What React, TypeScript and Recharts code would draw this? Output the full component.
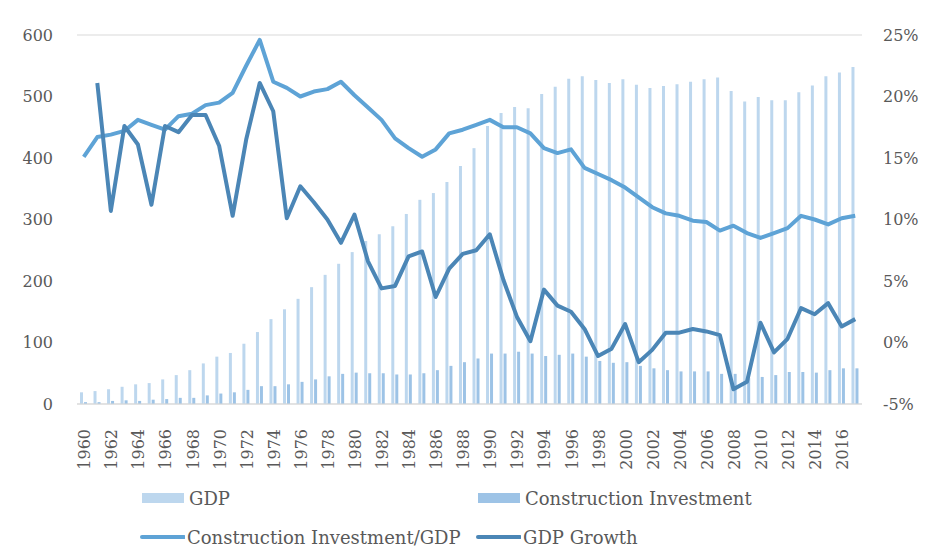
import React from 'react';
import { ComposedChart, Bar, Line, XAxis, YAxis, CartesianGrid, Legend } from 'recharts';

const years = [
  1960, 1961, 1962, 1963, 1964, 1965, 1966, 1967, 1968, 1969,
  1970, 1971, 1972, 1973, 1974, 1975, 1976, 1977, 1978, 1979,
  1980, 1981, 1982, 1983, 1984, 1985, 1986, 1987, 1988, 1989,
  1990, 1991, 1992, 1993, 1994, 1995, 1996, 1997, 1998, 1999,
  2000, 2001, 2002, 2003, 2004, 2005, 2006, 2007, 2008, 2009,
  2010, 2011, 2012, 2013, 2014, 2015, 2016, 2017,
];

const gdp = [
  19, 21, 24, 28, 32, 34, 40, 47, 55, 66,
  77, 83, 98, 117, 138, 154, 171, 190, 210, 228,
  247, 265, 276, 289, 309, 332, 343, 361, 387, 416,
  452, 473, 483, 481, 504, 516, 529, 533, 527, 522,
  528, 519, 514, 517, 520, 524, 528, 531, 509, 492,
  499, 494, 494, 507, 518, 533, 539, 548,
];

const constructionInvestment = [
  3, 3, 5, 6, 5, 7, 8, 10, 10, 14,
  17, 19, 23, 29, 29, 32, 36, 40, 45, 49,
  51, 50, 50, 48, 48, 50, 55, 62, 68, 74,
  82, 82, 85, 82, 78, 80, 82, 77, 70, 67,
  68, 62, 58, 55, 53, 53, 53, 49, 49, 42,
  44, 47, 52, 52, 51, 55, 58, 58,
];

const ciToGdp = [
  15.1, 16.7, 16.9, 17.2, 18.1, 17.7, 17.3, 18.4, 18.6, 19.3,
  19.5, 20.3, 22.5, 24.6, 21.2, 20.7, 20.0, 20.4, 20.6, 21.2,
  20.1, 19.1, 18.1, 16.6, 15.8, 15.1, 15.7, 17.0, 17.3, 17.7,
  18.1, 17.5, 17.5, 17.0, 15.8, 15.4, 15.7, 14.2, 13.7, 13.2,
  12.6, 11.8, 11.0, 10.5, 10.3, 9.9, 9.8, 9.1, 9.5, 8.9,
  8.5, 8.9, 9.3, 10.3, 10.0, 9.6, 10.1, 10.3,
];

const gdpGrowth: (number | null)[] = [
  null, 21.1, 10.7, 17.6, 16.1, 11.2, 17.6, 17.1, 18.5, 18.5,
  16.0, 10.3, 16.5, 21.1, 18.8, 10.1, 12.7, 11.4, 10.0, 8.1,
  10.4, 6.6, 4.4, 4.6, 7.0, 7.4, 3.7, 6.0, 7.2, 7.5,
  8.8, 5.1, 2.1, 0.1, 4.3, 3.0, 2.5, 1.1, -1.1, -0.5,
  1.5, -1.6, -0.6, 0.8, 0.8, 1.1, 0.9, 0.6, -3.8, -3.2,
  1.6, -0.8, 0.3, 2.8, 2.3, 3.2, 1.3, 1.9,
];

const leftTicks = [0, 100, 200, 300, 400, 500, 600];
const rightTicks = [-5, 0, 5, 10, 15, 20, 25];

const seriesNames = ['GDP', 'Construction Investment', 'Construction Investment/GDP', 'GDP Growth'];

const data = years.map((y, i) => ({
  year: y,
  gdp: gdp[i],
  ci: constructionInvestment[i],
  ratio: ciToGdp[i],
  growth: gdpGrowth[i],
}));

const FONT = "'DejaVu Serif', serif";
const TEXT = '#595959';
const C_GDP = '#bdd7ee';
const C_CI = '#9dc3e6';
const C_RATIO = '#5ea3d6';
const C_GROWTH = '#4b86b6';

const YearTick = (props: any) => {
  const { x, y, payload } = props;
  return (
    <text
      x={0}
      y={0}
      transform={`translate(${x + 1},${y + 17}) rotate(-90)`}
      textAnchor="end"
      dominantBaseline="central"
      fontFamily={FONT}
      fontSize={16}
      fill={TEXT}
    >
      {payload.value}
    </text>
  );
};

const LegendContent = () => {
  const items = [
    { name: seriesNames[0], color: C_GDP, type: 'bar', left: 142, top: 34 },
    { name: seriesNames[1], color: C_CI, type: 'bar', left: 478, top: 34 },
    { name: seriesNames[2], color: C_RATIO, type: 'line', left: 140, top: 73 },
    { name: seriesNames[3], color: C_GROWTH, type: 'line', left: 476, top: 73 },
  ];
  return (
    <div style={{ position: 'relative', width: 935, height: 90 }}>
      {items.map((it) => (
        <div
          key={it.name}
          style={{
            position: 'absolute',
            left: it.left,
            top: it.top - 12,
            height: 24,
            display: 'flex',
            alignItems: 'center',
            whiteSpace: 'nowrap',
          }}
        >
          <svg width={45} height={24} style={{ display: 'block' }}>
            {it.type === 'bar' ? (
              <rect x={0} y={7} width={42} height={10} fill={it.color} />
            ) : (
              <line x1={2} y1={12} x2={44} y2={12} stroke={it.color} strokeWidth={4} strokeLinecap="round" />
            )}
          </svg>
          <span style={{ fontFamily: FONT, fontSize: 18, color: TEXT, marginLeft: 2 }}>{it.name}</span>
        </div>
      ))}
    </div>
  );
};

export default function App() {
  return (
    <div style={{ position: 'absolute', left: 0, top: 0, width: 935, height: 560, background: '#fff' }}>
      <ComposedChart
        width={935}
        height={560}
        data={data}
        margin={{ top: 35, right: 0, bottom: 6, left: 0 }}
        barGap={1}
        barCategoryGap={3}
      >
        <CartesianGrid vertical={false} stroke="#d9d9d9" strokeWidth={1} />
        <XAxis
          dataKey="year"
          interval={1}
          tick={<YearTick />}
          tickLine={false}
          axisLine={{ stroke: '#d9d9d9' }}
          height={60}
        />
        <YAxis
          yAxisId="left"
          domain={[0, 600]}
          ticks={leftTicks}
          width={77}
          axisLine={false}
          tickLine={false}
          tickSize={0}
          tickMargin={24}
          tick={{ fontFamily: FONT, fontSize: 16, fill: TEXT }}
        />
        <YAxis
          yAxisId="right"
          orientation="right"
          domain={[-5, 25]}
          ticks={rightTicks}
          width={73}
          axisLine={false}
          tickLine={false}
          tickSize={0}
          tickMargin={21}
          tickFormatter={(v: number) => `${v}%`}
          tick={{ fontFamily: FONT, fontSize: 16, fill: TEXT, textAnchor: 'start' }}
        />
        <Legend verticalAlign="bottom" content={<LegendContent />} wrapperStyle={{ left: 0, width: 935, height: 90 }} />
        <Bar yAxisId="left" dataKey="gdp" name={seriesNames[0]} fill={C_GDP} barSize={3} isAnimationActive={false} />
        <Bar yAxisId="left" dataKey="ci" name={seriesNames[1]} fill={C_CI} barSize={3} isAnimationActive={false} />
        <Line
          yAxisId="right"
          dataKey="ratio"
          name={seriesNames[2]}
          stroke={C_RATIO}
          strokeWidth={4}
          dot={false}
          activeDot={false}
          strokeLinejoin="round"
          type="linear"
          isAnimationActive={false}
        />
        <Line
          yAxisId="right"
          dataKey="growth"
          name={seriesNames[3]}
          stroke={C_GROWTH}
          strokeWidth={4}
          dot={false}
          activeDot={false}
          strokeLinejoin="round"
          type="linear"
          isAnimationActive={false}
        />
      </ComposedChart>
    </div>
  );
}
